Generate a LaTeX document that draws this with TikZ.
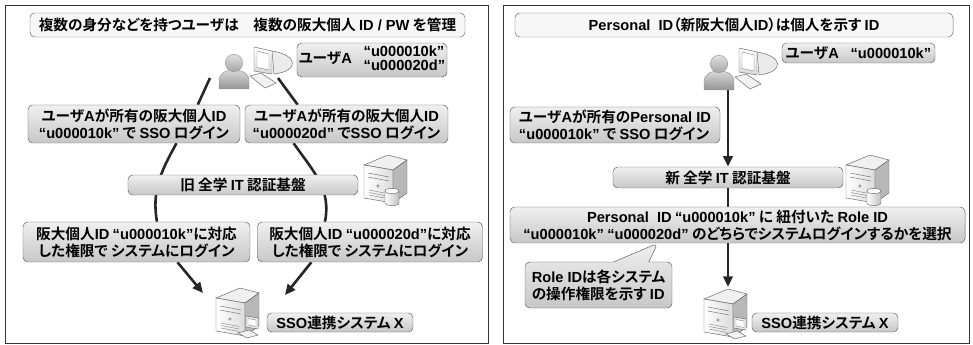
\documentclass[tikz,border=0pt]{standalone}
\usepackage{fontspec}
\setmainfont{Noto Sans CJK JP}[BoldFont={Noto Sans CJK JP Bold}, RawFeature={+palt}]
\newfontfamily\lat{Liberation Sans}
\newcommand\ltn[1]{{\lat #1}}
\newcommand\uid[1]{{\lat “#1”}}
\usetikzlibrary{arrows.meta,backgrounds,calc,shapes.callouts}

\begin{document}
\begin{tikzpicture}[x=0.03cm, y=-0.03cm, >={Triangle[length=9pt,width=8pt]},
  panel/.style={draw=black!80, line width=0.7pt},
  headbox/.style={draw=black!60, rounded corners=4pt, fill=black!3, inner sep=0pt, font=\fontsize{12.5}{14}\selectfont\bfseries},
  box/.style={draw=black!65, rounded corners=4pt, top color=black!6, bottom color=black!22, inner sep=0pt, align=center, font=\fontsize{12.5}{14.5}\selectfont\bfseries},
  link/.style={line width=2.2pt, black!85},
  userpc/.pic={
    % monitor and keyboard
    \draw[black!60, fill=black!8] (38,-12) .. controls (64,-8) and (66,8) .. (40,11) -- cycle;
    \draw[black!60, top color=white, bottom color=black!15] (20,-16) -- (38,-12) -- (38,11) -- (20,8) -- cycle;
    \draw[black!45, fill=white] (23,-12) -- (35,-9) -- (35,7) -- (23,4.5) -- cycle;
    \draw[black!60, fill=black!5] (16,13) -- (27,10) -- (42,20) -- (31,25) -- cycle;
    % person
    \draw[black!40, top color=black!15, bottom color=black!42] (-15,26) -- (-15,18) .. controls (-15,10) and (-8,7) .. (0,7) .. controls (8,7) and (15,10) .. (15,18) -- (15,26) -- cycle;
    \draw[black!40, top color=black!12, bottom color=black!35] (0,0) circle[radius=0.26cm];
    \coordinate (-l) at (-24,15);
    \coordinate (-r) at (44,15);
    \coordinate (-foot) at (9,25);
  },
  tower/.pic={
    \draw[black!60, fill=black!6] (0,10) -- (24,0) -- (43,5) -- (29,15) -- cycle;
    \draw[black!60, left color=white, right color=black!14] (0,10) -- (29,15) -- (29,48) -- (0,43) -- cycle;
    \draw[black!60, fill=black!28] (29,15) -- (43,5) -- (43,38) -- (29,48) -- cycle;
    \foreach \v in {18,22} \draw[black!55] (4,\v) -- (25,{\v+4});
    \draw[black!55] (14,31) circle[radius=0.04cm];
    \foreach \v in {35,37.5,40} \draw[black!45] (5,\v) -- (23,{\v+3.5});
  },
  drum/.pic={
    \draw[black!60, left color=white, right color=black!25] (21,36) -- (21,48) arc[start angle=180, end angle=360, x radius=0.21cm, y radius=0.08cm] -- (35,36) -- cycle;
    \draw[black!60, fill=white] (28,36) ellipse[x radius=0.21cm, y radius=0.08cm];
  },
  minipc/.pic={
    \draw[black!60, fill=black!8] (30,28) -- (42,30) -- (42,41) -- (30,39) -- cycle;
    \draw[black!45, fill=white] (32,30.5) -- (40,32) -- (40,38.5) -- (32,37) -- cycle;
    \draw[black!60, fill=black!5] (22,45) -- (33,42) -- (42,47) -- (31,50) -- cycle;
  }]
\useasboundingbox (0,0) rectangle (973,345);
% ================= left: old IDs =================
\node[headbox, minimum width=13.05cm, minimum height=0.72cm] (headL) at (247.5,25) {複数の身分などを持つユーザは　複数の阪大個人 \ltn{ID / PW} を管理};
\pic (uL) at (234,63) {userpc};
\node[box, minimum width=4.5cm, minimum height=1.02cm] (userL) at (372,60) {ユーザ\ltn{A}\hspace{0.8em}\begin{tabular}{@{}l@{}}\uid{u000010k}\\[-2pt]\uid{u000020d}\end{tabular}};
\node[box, minimum width=6.36cm, minimum height=1.14cm] (loginL1) at (134,124) {ユーザ\ltn{A}が所有の阪大個人\ltn{ID}\\\uid{u000010k} で \ltn{SSO} ログイン};
\node[box, minimum width=6.09cm, minimum height=1.14cm] (loginL2) at (346.5,124) {ユーザ\ltn{A}が所有の阪大個人\ltn{ID}\\\uid{u000020d} で\ltn{SSO} ログイン};
\node[box, minimum width=6.9cm, minimum height=0.6cm] (authL) at (243,185) {旧 全学 \ltn{IT} 認証基盤};
\pic at (364,155) {tower};
\pic at (364,155) {drum};
\node[box, minimum width=6.81cm, minimum height=1.2cm] (roleL1) at (136.5,242) {阪大個人\ltn{ID} \uid{u000010k}に対応\\した権限で システムにログイン};
\node[box, minimum width=6.75cm, minimum height=1.2cm] (roleL2) at (370,242) {阪大個人\ltn{ID} \uid{u000020d}に対応\\した権限で システムにログイン};
\pic at (216,288) {tower};
\pic at (216,288) {minipc};
\node[box, minimum width=4.38cm, minimum height=0.57cm] (ssoL) at (340,322.5) {\ltn{SSO}連携システム \ltn{X}};
\coordinate (hitL1) at (203,293);
\coordinate (hitL2) at (285,295);
% ================= right: personal ID + role ID =================
\node[headbox, minimum width=13.14cm, minimum height=0.72cm] (headR) at (734,25) {\ltn{Personal\ \ ID}（新阪大個人\ltn{ID}）は個人を示す \ltn{ID}};
\pic (uR) at (719,64) {userpc};
\node[box, minimum width=4.59cm, minimum height=0.6cm] (userR) at (858.5,53) {ユーザ\ltn{A}\hspace{0.8em}\uid{u000010k}};
\node[box, align=left, minimum width=6.3cm, minimum height=1.08cm] (loginR) at (615,125) {ユーザ\ltn{A}が所有の\ltn{Personal ID}\\\uid{u000010k} で \ltn{SSO} ログイン};
\node[box, minimum width=6.9cm, minimum height=0.63cm] (authR) at (728,177.5) {新 全学 \ltn{IT} 認証基盤};
\pic at (846,155) {tower};
\pic at (846,155) {drum};
\node[box, minimum width=13.65cm, minimum height=1.08cm] (selR) at (737.5,225) {\ltn{Personal\ \ ID} \uid{u000010k} に 紐付いた \ltn{Role ID}\\\uid{u000010k} \uid{u000020d} のどちらでシステムログインするかを選択};
\coordinate (tipR) at ($(selR.south west)!0.325!(selR.south east)$);
\node[box, align=left, rectangle callout, callout absolute pointer=(tipR), callout pointer width=1.05cm, minimum width=4.41cm, minimum height=1.38cm] (noteR) at (598.5,285) {\ltn{Role ID}は各システム\\の操作権限を示す \ltn{ID}};
\pic at (704,289) {tower};
\pic at (704,289) {minipc};
\node[box, minimum width=4.38cm, minimum height=0.57cm] (ssoR) at (825,322.5) {\ltn{SSO}連携システム \ltn{X}};
\coordinate (hitR) at (728,287);
% frames and connectors go underneath
\begin{scope}[on background layer]
\foreach \a/\b in {5/488,503/969} \draw[panel] (\a,5) rectangle (\b,343);
\draw[link] (uL-l) -- ($(loginL1.north west)!0.80!(loginL1.north east)$);
\draw[link] (uL-r) -- ($(loginL2.north west)!0.26!(loginL2.north east)$);
\draw[link] ($(loginL1.south west)!0.70!(loginL1.south east)$) to[out=-119,in=100] ($(roleL1.north west)!0.59!(roleL1.north east)$);
\draw[link] ($(loginL2.south west)!0.24!(loginL2.south east)$) to[out=-55,in=78] ($(roleL2.north west)!0.30!(roleL2.north east)$);
\draw[link,->] ($(roleL1.south west)!0.68!(roleL1.south east)$) -- (hitL1);
\draw[link,->] ($(roleL2.south west)!0.24!(roleL2.south east)$) -- (hitL2);
\draw[link,->] (uR-foot) -- (uR-foot |- authR.north);
\draw[link] (authR.south) -- (authR.south |- selR.north);
\draw[link,->] (authR.south |- selR.south) -- (hitR);
\end{scope}
\end{tikzpicture}
\end{document}
